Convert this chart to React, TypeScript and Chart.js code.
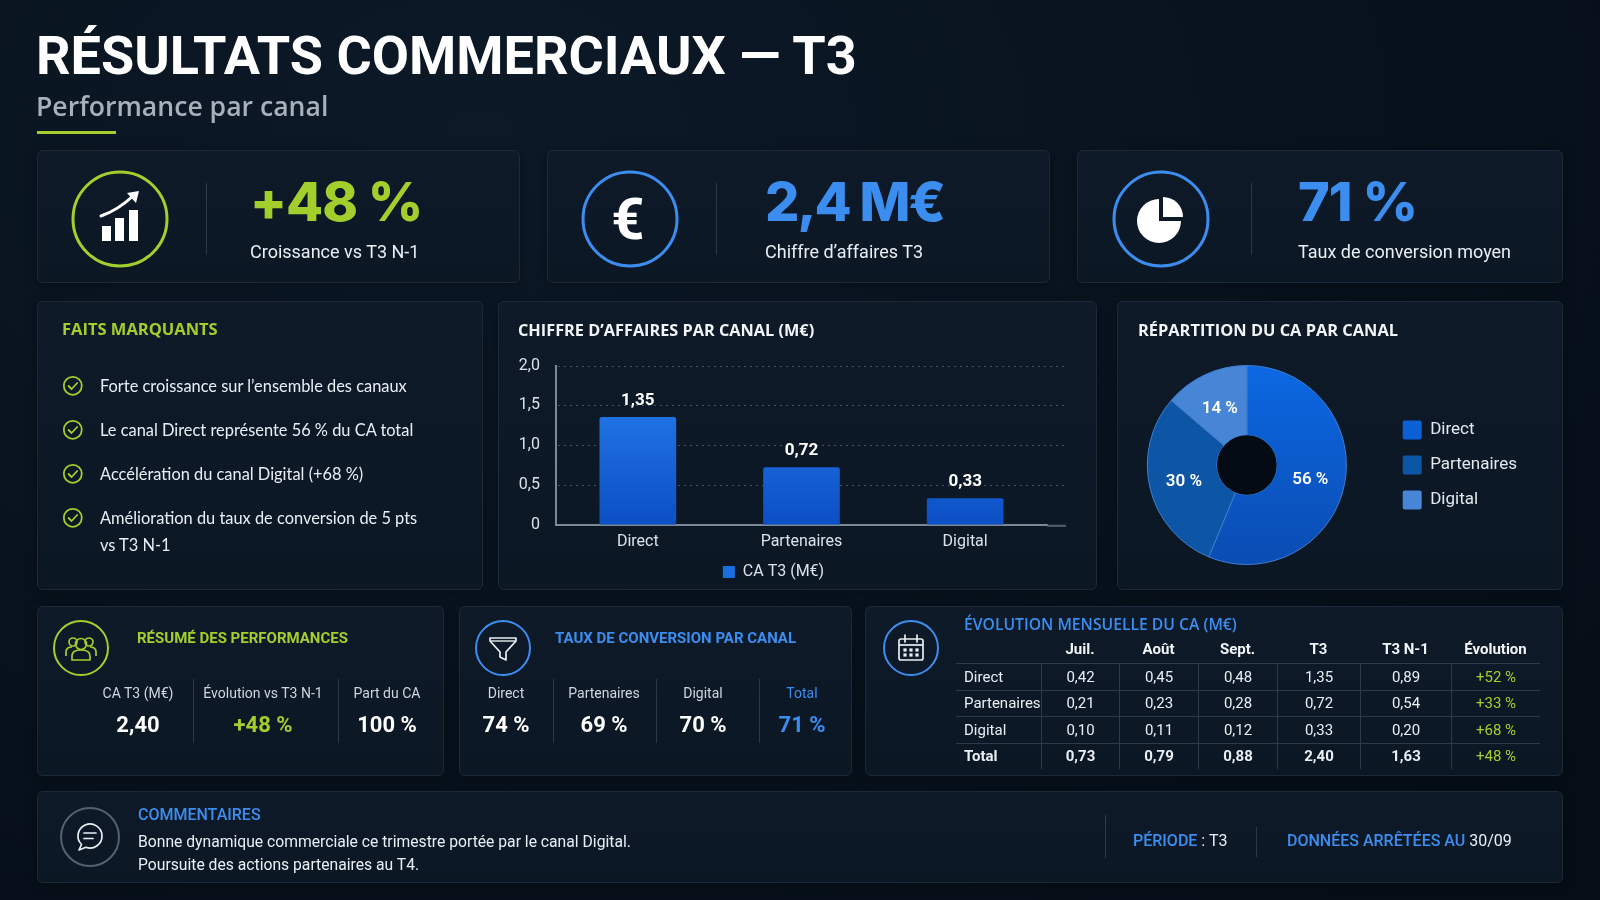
import { useEffect, useRef } from 'react';
import type { ReactNode } from 'react';
import { Chart, registerables } from 'chart.js';

Chart.register(...registerables);
Chart.defaults.font.family = 'Roboto';

// --- data ---
const channels = ['Direct', 'Partenaires', 'Digital'];
const caT3 = [1.35, 0.72, 0.33];
const yTicks = [0, 0.5, 1, 1.5, 2];
const sliceColors = ['#0b60d6', '#0d56a6', '#4785d6'];

const kpiValues = ['+48 %', '2,4 M€', '71 %'];
const kpiLabels = ['Croissance vs T3 N-1', 'Chiffre d’affaires T3', 'Taux de conversion moyen'];

const highlights = [
  ['Forte croissance sur l’ensemble des canaux'],
  ['Le canal Direct représente 56 % du CA total'],
  ['Accélération du canal Digital (+68 %)'],
  ['Amélioration du taux de conversion de 5 pts', 'vs T3 N-1'],
];

const summaryLabels = ['CA T3 (M€)', 'Évolution vs T3 N-1', 'Part du CA'];
const summaryValues = ['2,40', '+48 %', '100 %'];

const convLabels = ['Direct', 'Partenaires', 'Digital', 'Total'];
const convValues = [74, 69, 70, 71];

const tableHead = ['', 'Juil.', 'Août', 'Sept.', 'T3', 'T3 N-1', 'Évolution'];
const tableRows = ['Direct', 'Partenaires', 'Digital', 'Total'];
const julValues = [0.42, 0.21, 0.1, 0.73];
const aoutValues = [0.45, 0.23, 0.11, 0.79];
const septValues = [0.48, 0.28, 0.12, 0.88];
const t3Values = [1.35, 0.72, 0.33, 2.4];
const t3n1Values = [0.89, 0.54, 0.2, 1.63];
const evolValues = [52, 33, 68, 48];

const LIME = '#a2cf2c';
const BLUE = '#3b8ef0';
const TEXT = '#e9eef4';
const MUTED = '#cfd6df';

const fmt = (v: number, d: number) => v.toFixed(d).replace('.', ',');

// --- small layout helpers ---
function T({ x, y, size, weight = 400, color = TEXT, align = 'left', family = 'Roboto', ls, children }: {
  x: number; y: number; size: number; weight?: number; color?: string;
  align?: 'left' | 'center' | 'right'; family?: string; ls?: number; children: ReactNode;
}) {
  const tx = align === 'center' ? '-50%' : align === 'right' ? '-100%' : '0';
  return (
    <div style={{
      position: 'absolute', left: x, top: y, transform: `translate(${tx}, -50%)`,
      fontSize: size, fontWeight: weight, color, fontFamily: family, lineHeight: 1,
      whiteSpace: 'nowrap', letterSpacing: ls,
    }}>{children}</div>
  );
}

function Panel({ x, y, w, h }: { x: number; y: number; w: number; h: number }) {
  return (
    <div style={{
      position: 'absolute', left: x, top: y, width: w, height: h, boxSizing: 'border-box',
      background: 'linear-gradient(180deg, #0e1a28 0%, #0c1724 100%)',
      border: '1px solid #1b2939', borderRadius: 6, boxShadow: '0 2px 12px rgba(0,0,0,0.35)',
    }} />
  );
}

function VLine({ x, y1, y2, color = '#2a394a' }: { x: number; y1: number; y2: number; color?: string }) {
  return <div style={{ position: 'absolute', left: x, top: y1, width: 1, height: y2 - y1, background: color }} />;
}

function Ring({ cx, cy, r, color, sw = 2, children }: { cx: number; cy: number; r: number; color: string; sw?: number; children?: ReactNode }) {
  const s = r + sw + 2;
  return (
    <svg width={s * 2} height={s * 2} viewBox={`${-s} ${-s} ${s * 2} ${s * 2}`}
      style={{ position: 'absolute', left: cx - s, top: cy - s, overflow: 'visible' }}>
      <circle cx={0} cy={0} r={r} fill="none" stroke={color} strokeWidth={sw} />
      {children}
    </svg>
  );
}

function Check({ cx, cy }: { cx: number; cy: number }) {
  return (
    <Ring cx={cx} cy={cy} r={9} color={LIME} sw={1.8}>
      <path d="M-4.2 0.2 L-1.2 3.2 L4.4 -2.8" fill="none" stroke={LIME} strokeWidth={1.8} strokeLinecap="round" strokeLinejoin="round" />
    </Ring>
  );
}

// --- charts ---
function BarChart() {
  const ref = useRef<HTMLCanvasElement>(null);
  useEffect(() => {
    if (!ref.current) return;
    const dottedGrid = {
      id: 'dottedGrid',
      beforeDatasetsDraw(chart: any) {
        const { ctx, chartArea, scales } = chart;
        ctx.save();
        ctx.strokeStyle = '#44566c';
        ctx.lineWidth = 1;
        ctx.setLineDash([2, 4]);
        yTicks.filter((v) => v > 0).forEach((v) => {
          const py = Math.round(scales.y.getPixelForValue(v)) + 0.5;
          ctx.beginPath();
          ctx.moveTo(chartArea.left + 2, py);
          ctx.lineTo(chartArea.right + 19, py);
          ctx.stroke();
        });
        ctx.setLineDash([]);
        ctx.strokeStyle = '#56626f';
        ctx.lineWidth = 2;
        ctx.beginPath();
        ctx.moveTo(chartArea.right, chartArea.bottom + 1);
        ctx.lineTo(chartArea.right + 19, chartArea.bottom + 1);
        ctx.stroke();
        ctx.restore();
      },
    };
    const barValues = {
      id: 'barValues',
      afterDatasetsDraw(chart: any) {
        const { ctx } = chart;
        ctx.save();
        ctx.fillStyle = '#ffffff';
        ctx.font = 'bold 17px Roboto';
        ctx.textAlign = 'center';
        ctx.textBaseline = 'middle';
        chart.getDatasetMeta(0).data.forEach((bar: any, i: number) => {
          ctx.fillText(fmt(caT3[i], 2), bar.x, bar.y - 17);
        });
        ctx.restore();
      },
    };
    const chart = new Chart(ref.current, {
      type: 'bar',
      data: {
        labels: channels,
        datasets: [{
          label: 'CA T3 (M€)',
          data: caT3,
          backgroundColor: (c: any) => {
            const area = c.chart.chartArea;
            if (!area) return '#1565d8';
            const g = c.chart.ctx.createLinearGradient(0, area.top, 0, area.bottom);
            g.addColorStop(0, '#2a82f2');
            g.addColorStop(1, '#0b4fc4');
            return g;
          },
          barThickness: 76,
          borderRadius: { topLeft: 2, topRight: 2 },
          borderSkipped: 'bottom',
        }],
      },
      options: {
        animation: false,
        responsive: false,
        layout: { padding: { top: 11, right: 43, left: 0, bottom: 0 } },
        scales: {
          x: {
            grid: { color: 'transparent', drawTicks: false },
            border: { display: true, color: '#7d8896', width: 2 },
            ticks: { color: '#dbe1e8', font: { size: 16 }, padding: 8 },
          },
          y: {
            min: 0,
            max: 2,
            afterFit: (s: any) => { s.width = 56; },
            grid: { color: 'transparent', drawTicks: false },
            border: { display: true, color: '#7d8896', width: 2 },
            ticks: {
              stepSize: 0.5,
              padding: 16,
              color: '#dbe1e8',
              font: { size: 16 },
              callback: (v: any) => (Number(v) === 0 ? '0' : fmt(Number(v), 1)),
            },
          },
        },
        plugins: {
          legend: {
            position: 'bottom',
            labels: {
              color: '#dbe1e8',
              font: { size: 16 },
              boxWidth: 12,
              boxHeight: 12,
              padding: 4,
              generateLabels: (ch: any) =>
                Chart.defaults.plugins.legend.labels.generateLabels(ch).map((l: any) => ({ ...l, fillStyle: '#1a6ee2', strokeStyle: '#1a6ee2', lineWidth: 0 })),
            },
          },
          tooltip: { enabled: false },
        },
      },
      plugins: [dottedGrid, barValues],
    });
    return () => chart.destroy();
  }, []);
  return <canvas ref={ref} width={590} height={250} style={{ position: 'absolute', left: 500, top: 340 }} />;
}

function PieChart() {
  const ref = useRef<HTMLCanvasElement>(null);
  useEffect(() => {
    if (!ref.current) return;
    const pieExtras = {
      id: 'pieExtras',
      afterDatasetsDraw(chart: any) {
        const { ctx } = chart;
        const meta = chart.getDatasetMeta(0);
        const first = meta.data[0];
        ctx.save();
        ctx.beginPath();
        ctx.arc(first.x, first.y, first.innerRadius, 0, Math.PI * 2);
        ctx.fillStyle = '#040b15';
        ctx.fill();
        const total = caT3.reduce((a, b) => a + b, 0);
        ctx.fillStyle = '#ffffff';
        ctx.font = '600 17px Roboto';
        ctx.textAlign = 'center';
        ctx.textBaseline = 'middle';
        meta.data.forEach((arc: any, i: number) => {
          const p = arc.tooltipPosition(false);
          ctx.fillText(`${Math.round((caT3[i] / total) * 100)} %`, p.x, p.y + 2);
        });
        ctx.restore();
      },
    };
    const chart = new Chart(ref.current, {
      type: 'doughnut',
      data: {
        labels: channels,
        datasets: [{
          data: caT3,
          backgroundColor: (c: any) => {
            const area = c.chart.chartArea;
            if (c.dataIndex !== 0 || !area) return sliceColors[c.dataIndex];
            const g = c.chart.ctx.createLinearGradient(0, area.top, 0, area.bottom);
            g.addColorStop(0, '#0c68e2');
            g.addColorStop(1, '#0a4cb2');
            return g;
          },
          borderColor: '#3f7fd2',
          borderWidth: 1,
        }],
      },
      options: {
        animation: false,
        responsive: false,
        cutout: '30%',
        layout: { padding: { top: 20, bottom: 20, left: 0, right: 0 } },
        plugins: {
          legend: {
            position: 'right',
            labels: {
              color: '#e3e8ee',
              font: { size: 17 },
              boxWidth: 19,
              boxHeight: 19,
              padding: 16,
              useBorderRadius: true,
              borderRadius: 2,
              generateLabels: (ch: any) =>
                Chart.overrides.doughnut.plugins.legend.labels.generateLabels(ch).map((l: any, i: number) => ({ ...l, fillStyle: sliceColors[i], strokeStyle: sliceColors[i], lineWidth: 0 })),
            },
          },
          tooltip: { enabled: false },
        },
      },
      plugins: [pieExtras],
    });
    return () => chart.destroy();
  }, []);
  return <canvas ref={ref} width={420} height={240} style={{ position: 'absolute', left: 1107, top: 345 }} />;
}

// --- table ---
const colW = [85, 78, 79, 79, 83, 91, 89];

function MonthlyTable() {
  const rowCells = (i: number) => [
    fmt(julValues[i], 2), fmt(aoutValues[i], 2), fmt(septValues[i], 2),
    fmt(t3Values[i], 2), fmt(t3n1Values[i], 2), `+${evolValues[i]} %`,
  ];
  return (
    <div style={{ position: 'absolute', left: 956, top: 635, fontFamily: 'Roboto', fontSize: 15 }}>
      <div style={{ display: 'flex', height: 28, alignItems: 'center' }}>
        {tableHead.map((h, j) => (
          <div key={j} style={{ width: colW[j], textAlign: 'center', fontWeight: 700, color: '#f2f5f8' }}>{h}</div>
        ))}
      </div>
      {tableRows.map((r, i) => (
        <div key={r} style={{ display: 'flex', height: 26.5, borderTop: '1px solid #2b3b4e', boxSizing: 'border-box' }}>
          <div style={{ width: colW[0], paddingLeft: 8, boxSizing: 'border-box', display: 'flex', alignItems: 'center', color: TEXT, fontWeight: i === 3 ? 700 : 400 }}>{r}</div>
          {rowCells(i).map((c, j) => (
            <div key={j} style={{
              width: colW[j + 1], borderLeft: '1px solid #2b3b4e', boxSizing: 'border-box',
              display: 'flex', alignItems: 'center', justifyContent: 'center',
              color: j === 5 ? LIME : TEXT, fontWeight: i === 3 && j < 5 ? 700 : 400,
            }}>{c}</div>
          ))}
        </div>
      ))}
    </div>
  );
}

export default function App() {
  const kpiX = [250, 765, 1298];
  const kpiCx = [120, 630, 1161];
  const kpiDiv = [206, 716, 1251];
  const kpiColors = [LIME, BLUE, BLUE];
  return (
    <div style={{
      position: 'fixed', left: 0, top: 0, width: 1600, height: 900, overflow: 'hidden',
      background: 'radial-gradient(ellipse at 30% 15%, #0c1927 0%, #08121d 55%, #050d16 100%)',
      fontFamily: 'Roboto, sans-serif', color: TEXT,
    }}>
      {/* header */}
      <T x={36} y={56} size={54} weight={700} color="#ffffff">RÉSULTATS COMMERCIAUX — T3</T>
      <T x={36} y={106} size={26.6} weight={600} family="Open Sans" color="#a8b0ba">Performance par canal</T>
      <div style={{ position: 'absolute', left: 37, top: 131, width: 79, height: 3, background: LIME }} />

      {/* panels */}
      <Panel x={37} y={150} w={483} h={133} />
      <Panel x={547} y={150} w={503} h={133} />
      <Panel x={1077} y={150} w={486} h={133} />
      <Panel x={37} y={301} w={446} h={289} />
      <Panel x={498} y={301} w={599} h={289} />
      <Panel x={1117} y={301} w={446} h={289} />
      <Panel x={37} y={606} w={407} h={170} />
      <Panel x={459} y={606} w={393} h={170} />
      <Panel x={865} y={606} w={698} h={170} />
      <Panel x={37} y={791} w={1526} h={92} />

      {/* KPI cards */}
      <Ring cx={kpiCx[0]} cy={219} r={47} color={LIME} sw={3}>
        <rect x={-18} y={7} width={9} height={15} fill="#fff" />
        <rect x={-5} y={-1} width={9} height={23} fill="#fff" />
        <rect x={9} y={-9} width={9} height={31} fill="#fff" />
        <path d="M-19 -3 Q-2 -9 13 -23" fill="none" stroke="#fff" strokeWidth={3} strokeLinecap="round" />
        <path d="M7 -26 L19 -28 L16 -16 Z" fill="#fff" />
      </Ring>
      <Ring cx={kpiCx[1]} cy={219} r={47} color={BLUE} sw={3}>
        <text x={-2} y={20} textAnchor="middle" fontSize={58} fontWeight={700} fill="#fff" fontFamily="Roboto">€</text>
      </Ring>
      <Ring cx={kpiCx[2]} cy={219} r={47} color={BLUE} sw={3}>
        <path d="M-2 2 L-2 -20 A22 22 0 1 0 20 2 Z" fill="#fff" />
        <path d="M2 -2 L2 -22 A20 20 0 0 1 22 -2 Z" fill="#fff" />
      </Ring>
      {kpiValues.map((v, i) => (
        <div key={v}>
          <VLine x={kpiDiv[i]} y1={183} y2={255} />
          <T x={kpiX[i]} y={202} size={54} weight={800} family="Inter" color={kpiColors[i]} ls={i === 1 ? -2 : -1}>{v}</T>
          <T x={kpiX[i]} y={252} size={18} color={TEXT}>{kpiLabels[i]}</T>
        </div>
      ))}

      {/* faits marquants */}
      <T x={62} y={329} size={16.5} weight={700} family="Open Sans" color={LIME}>FAITS MARQUANTS</T>
      {highlights.map((lines, i) => (
        <div key={i}>
          <Check cx={73} cy={386 + i * 44} />
          {lines.map((l, k) => (
            <T key={k} x={100} y={386 + i * 44 + k * 27} size={16.4} family="Lato" color={TEXT}>{l}</T>
          ))}
        </div>
      ))}

      {/* bar chart panel */}
      <T x={518} y={330} size={16.3} weight={700} family="Open Sans" color="#f2f5f8">CHIFFRE D’AFFAIRES PAR CANAL (M€)</T>
      <BarChart />

      {/* pie panel */}
      <T x={1138} y={330} size={16.4} weight={700} family="Open Sans" color="#f2f5f8">RÉPARTITION DU CA PAR CANAL</T>
      <PieChart />

      {/* résumé */}
      <Ring cx={81} cy={648} r={27} color={LIME} sw={2}>
        <g fill="none" stroke={LIME} strokeWidth={1.7} strokeLinejoin="round">
          <circle cx={-8} cy={-6} r={4} />
          <circle cx={8} cy={-6} r={4} />
          <path d="M-15 8 L-15 4 C-15 0 -12 -1 -9 -1" />
          <path d="M15 8 L15 4 C15 0 12 -1 9 -1" />
          <circle cx={0} cy={-4} r={5.5} />
          <path d="M-9 12 L-9 8 C-9 3 -5 2 0 2 C5 2 9 3 9 8 L9 12 Z" />
        </g>
      </Ring>
      <T x={137} y={638} size={15} weight={700} color={LIME}>RÉSUMÉ DES PERFORMANCES</T>
      <VLine x={193} y1={679} y2={743} />
      <VLine x={338} y1={679} y2={743} />
      {summaryLabels.map((l, i) => (
        <div key={l}>
          <T x={[138, 263, 387][i]} y={693} size={14} align="center" color={MUTED}>{l}</T>
          <T x={[138, 263, 387][i]} y={725} size={22} weight={700} align="center" color={i === 1 ? LIME : '#ffffff'}>{summaryValues[i]}</T>
        </div>
      ))}

      {/* taux de conversion */}
      <Ring cx={503} cy={648} r={27} color={BLUE} sw={2}>
        <path d="M-13 -10 H13 V-7 L3 4 V12 L-3 9 V4 L-13 -7 Z" fill="none" stroke="#e9eef4" strokeWidth={1.7} strokeLinejoin="round" />
        <path d="M-12 -7 H12" stroke="#e9eef4" strokeWidth={1.4} />
      </Ring>
      <T x={555} y={638} size={15} weight={700} color={BLUE}>TAUX DE CONVERSION PAR CANAL</T>
      <VLine x={553} y1={679} y2={743} />
      <VLine x={656} y1={679} y2={743} />
      <VLine x={759} y1={679} y2={743} />
      {convLabels.map((l, i) => (
        <div key={l}>
          <T x={[506, 604, 703, 802][i]} y={693} size={14} align="center" color={i === 3 ? BLUE : MUTED}>{l}</T>
          <T x={[506, 604, 703, 802][i]} y={725} size={22} weight={700} align="center" color={i === 3 ? BLUE : '#ffffff'}>{`${convValues[i]} %`}</T>
        </div>
      ))}

      {/* évolution mensuelle */}
      <Ring cx={911} cy={648} r={27} color={BLUE} sw={2}>
        <g fill="none" stroke="#e9eef4" strokeWidth={1.7}>
          <rect x={-12} y={-9} width={24} height={21} rx={2} />
          <path d="M-12 -3 H12" />
          <path d="M-6 -13 V-6 M6 -13 V-6" strokeLinecap="round" />
        </g>
        {[-6, 0, 6].map((dx) => [2, 7].map((dy) => (
          <rect key={`${dx}${dy}`} x={dx - 1.6} y={dy - 1.6} width={3.2} height={3.2} fill="#e9eef4" />
        )))}
      </Ring>
      <T x={964} y={625} size={15.7} weight={600} family="Open Sans" color={BLUE}>ÉVOLUTION MENSUELLE DU CA (M€)</T>
      <MonthlyTable />

      {/* commentaires */}
      <Ring cx={90} cy={837} r={29} color="#56616e" sw={2}>
        <path d="M-4.1 10.3 A12 12 0 1 0 -8.5 7.5 L-11 13 Z" fill="none" stroke="#e9eef4" strokeWidth={1.7} strokeLinejoin="round" />
        <path d="M-6 -4 H6 M-6 1.5 H3" stroke="#e9eef4" strokeWidth={1.7} strokeLinecap="round" />
      </Ring>
      <T x={138} y={815} size={16} weight={500} color={BLUE}>COMMENTAIRES</T>
      <T x={138} y={842} size={15.7} color={TEXT}>Bonne dynamique commerciale ce trimestre portée par le canal Digital.</T>
      <T x={138} y={865} size={15.7} color={TEXT}>Poursuite des actions partenaires au T4.</T>
      <VLine x={1105} y1={815} y2={858} />
      <VLine x={1256} y1={827} y2={857} />
      <T x={1133} y={841} size={16} weight={500} color={BLUE}>PÉRIODE <span style={{ color: TEXT, fontWeight: 400 }}>: T3</span></T>
      <T x={1287} y={841} size={16} weight={500} color={BLUE}>DONNÉES ARRÊTÉES AU <span style={{ color: TEXT, fontWeight: 400 }}>30/09</span></T>
    </div>
  );
}
